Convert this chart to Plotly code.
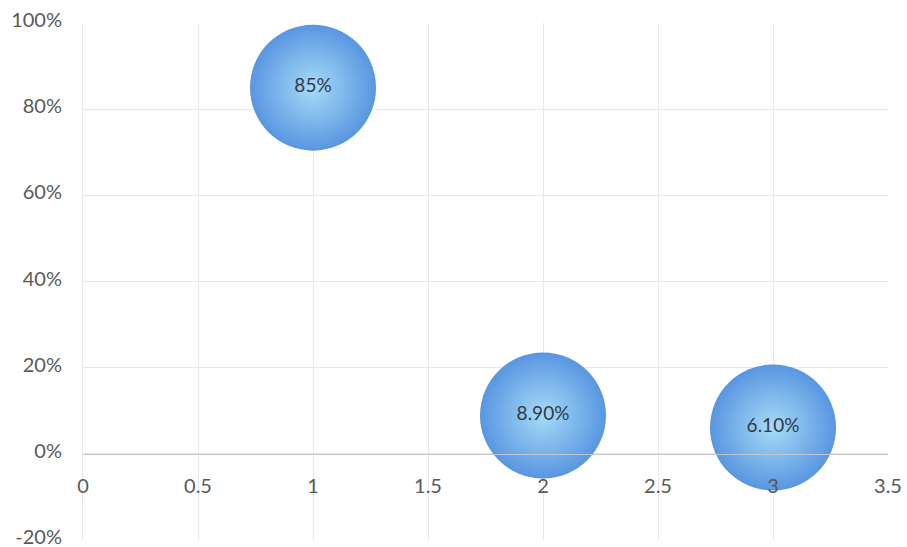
import plotly.graph_objects as go

x_vals = [1, 2, 3]
y_vals = [85, 8.9, 6.1]          # percent
bubble_size = [1, 1, 1]
point_labels = ["85%", "8.90%", "6.10%"]

x_ticks = [0, 0.5, 1, 1.5, 2, 2.5, 3, 3.5]
x_ticktext = ["0", "0.5", "1", "1.5", "2", "2.5", "3", "3.5"]
y_ticks = [-20, 0, 20, 40, 60, 80, 100]
y_ticktext = ["-20%", "0%", "20%", "40%", "60%", "80%", "100%"]

FONT = "Lato, 'Open Sans', sans-serif"
GRID = "#e7e7ee"
TICKCOL = "#595959"

fig = go.Figure()
fig.add_trace(go.Scatter(
    x=x_vals, y=y_vals,
    mode="markers+text",
    text=point_labels,
    textposition="middle center",
    textfont=dict(family=FONT, size=19, color="#333b45"),
    marker=dict(
        size=bubble_size, sizemode="diameter", sizeref=1 / 126,
        color="#5896e0",
        gradient=dict(type="radial", color="#a6dbf8"),
        line=dict(width=0),
        opacity=1,
    ),
    hoverinfo="skip",
    showlegend=False,
    cliponaxis=False,
))

ymin, ymax = -20, 100
fig.update_layout(
    width=907, height=547,
    margin=dict(l=83, r=19, t=23, b=7),
    paper_bgcolor="white", plot_bgcolor="white",
    font=dict(family=FONT, color=TICKCOL),
    xaxis=dict(
        range=[0, 3.5],
        tickvals=x_ticks, ticktext=x_ticktext,
        tickfont=dict(family=FONT, size=20, color=TICKCOL),
        showgrid=True, gridcolor=GRID, gridwidth=1,
        zeroline=False,
        showline=True, linecolor="#c4c4cc", linewidth=1,
        anchor="free", position=(0 - ymin) / (ymax - ymin),
        ticks="", ticklabelstandoff=14,
        ticklabeloverflow="allow",
        automargin=False,
    ),
    yaxis=dict(
        range=[ymin, ymax],
        tickvals=y_ticks, ticktext=y_ticktext,
        tickfont=dict(family=FONT, size=20, color=TICKCOL),
        showgrid=True, gridcolor=GRID, gridwidth=1,
        zeroline=False, showline=True, linecolor=GRID,
        ticks="", ticklabelstandoff=16, ticklabelshift=-3,
        ticklabeloverflow="allow",
        automargin=False,
    ),
)

fig.write_html(
    "out.html",
    config={"displayModeBar": False},
    post_script="document.body.style.margin='0';document.body.style.overflow='hidden';",
)
